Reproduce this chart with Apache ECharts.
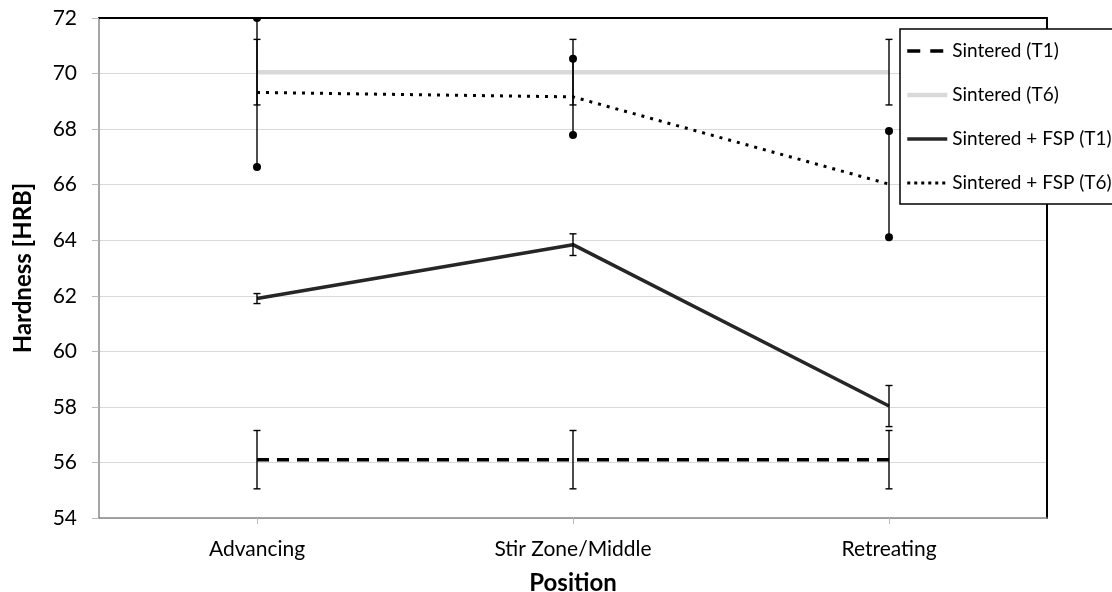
<!DOCTYPE html>
<html><head><meta charset="utf-8">
<script src="https://cdn.jsdelivr.net/npm/echarts@6/dist/echarts.min.js"></script>
<style>html,body{margin:0;padding:0;background:#fff}#c{width:1112px;height:592px}</style>
</head><body><div id="c"></div>
<script>
const categories = ['Advancing', 'Stir Zone/Middle', 'Retreating'];
const yTicks = [54, 56, 58, 60, 62, 64, 66, 68, 70, 72];
const sinteredT1 = [56.1, 56.1, 56.1];
const sinteredT1Err = [1.05, 1.05, 1.05];
const sinteredT6 = [70.05, 70.05, 70.05];
const sinteredT6Err = [1.18, 1.18, 1.18];
const fspT1 = [61.9, 63.84, 58.03];
const fspT1Err = [0.18, 0.39, 0.74];
const fspT6 = [69.32, 69.16, 66.02];
const fspT6Err = [2.68, 1.37, 1.91];

const FONT = 'Lato';
const chart = echarts.init(document.getElementById('c'));

function errData(vals, errs) {
  return vals.map((v, i) => [i, v - errs[i], v + errs[i]]);
}
function errSeries(name, vals, errs, dotted) {
  return {
    type: 'custom', name: name + ' err', clip: true, z: 5,
    silent: true,
    data: errData(vals, errs),
    renderItem: function (params, api) {
      const lo = api.coord([api.value(0), api.value(1)]);
      const hi = api.coord([api.value(0), api.value(2)]);
      const st = { stroke: '#000', lineWidth: 1.4 };
      const ch = [{ type: 'line', shape: { x1: lo[0], y1: lo[1], x2: hi[0], y2: hi[1] }, style: st }];
      if (dotted) {
        ch.push({ type: 'circle', shape: { cx: lo[0], cy: lo[1], r: 4 }, style: { fill: '#000' } });
        ch.push({ type: 'circle', shape: { cx: hi[0], cy: hi[1], r: 4 }, style: { fill: '#000' } });
      } else {
        const w = 3.5;
        ch.push({ type: 'line', shape: { x1: lo[0] - w, y1: lo[1], x2: lo[0] + w, y2: lo[1] }, style: st });
        ch.push({ type: 'line', shape: { x1: hi[0] - w, y1: hi[1], x2: hi[0] + w, y2: hi[1] }, style: st });
      }
      return { type: 'group', children: ch };
    }
  };
}

const option = {
  animation: false,
  backgroundColor: '#fff',
  grid: { left: 99, right: 65, top: 18, bottom: 74, containLabel: false, outerBoundsMode: 'none' },
  legend: {
    orient: 'vertical', left: 900, top: 29,
    padding: [12, 40, 11, 5],
    backgroundColor: '#fff', borderColor: '#000', borderWidth: 1.5, borderRadius: 0,
    itemWidth: 40, itemHeight: 14, itemGap: 24,
    itemStyle: { opacity: 0 },
    textStyle: { fontFamily: FONT, fontSize: 19, lineHeight: 20, color: '#000' },
    data: [
      { name: 'Sintered (T1)', lineStyle: { width: 3.5, color: '#000', type: [13, 10] } },
      { name: 'Sintered (T6)', lineStyle: { width: 4.5, color: '#d9d9d9' } },
      { name: 'Sintered + FSP (T1)', lineStyle: { width: 3.5, color: '#262626' } },
      { name: 'Sintered + FSP (T6)', lineStyle: { width: 3, color: '#000', type: [3, 4] } }
    ],
    z: 20
  },
  xAxis: [{
    type: 'category', data: categories, boundaryGap: true,
    axisLine: { lineStyle: { color: '#888', width: 1.5 } },
    axisTick: { show: true, alignWithLabel: true, length: 6, lineStyle: { color: '#bbb' } },
    axisLabel: { fontFamily: FONT, fontSize: 21, color: '#000', margin: 21 },
    name: 'Position', nameLocation: 'middle', nameGap: 53,
    nameTextStyle: { fontFamily: FONT, fontSize: 24, fontWeight: 'bold', color: '#000' }
  }, {
    type: 'category', data: categories, position: 'top',
    axisLine: { lineStyle: { color: '#000', width: 2 } },
    axisTick: { show: false }, axisLabel: { show: false }
  }],
  yAxis: [{
    type: 'value', min: yTicks[0], max: yTicks[yTicks.length - 1], interval: 2,
    axisLine: { show: true, lineStyle: { color: '#888', width: 1.5 } },
    axisTick: { show: true, length: 7, lineStyle: { color: '#bbb' } },
    axisLabel: { fontFamily: FONT, fontSize: 21, color: '#000', margin: 22 },
    splitLine: { lineStyle: { color: '#d9d9d9', width: 1.2 } },
    name: 'Hardness [HRB]', nameLocation: 'middle', nameGap: 64,
    nameTextStyle: { fontFamily: FONT, fontSize: 24, fontWeight: 'bold', color: '#000' }
  }, {
    type: 'value', min: yTicks[0], max: yTicks[yTicks.length - 1], interval: 2, position: 'right',
    axisLine: { show: true, lineStyle: { color: '#000', width: 2 } },
    axisTick: { show: false }, axisLabel: { show: false }, splitLine: { show: false }
  }],
  series: [
    { name: 'Sintered (T1)', type: 'line', data: sinteredT1, symbol: 'none', z: 3,
      color: '#000', lineStyle: { color: '#000', width: 3.5, type: [12, 8] } },
    { name: 'Sintered (T6)', type: 'line', data: sinteredT6, symbol: 'none', z: 2,
      color: '#d9d9d9', lineStyle: { color: '#d9d9d9', width: 4.5 } },
    { name: 'Sintered + FSP (T1)', type: 'line', data: fspT1, symbol: 'none', z: 3,
      color: '#262626', lineStyle: { color: '#262626', width: 3.5 } },
    { name: 'Sintered + FSP (T6)', type: 'line', data: fspT6, symbol: 'none', z: 3,
      color: '#000', lineStyle: { color: '#000', width: 3, type: [3, 6] } },
    errSeries('Sintered (T6)', sinteredT6, sinteredT6Err, false),
    errSeries('Sintered (T1)', sinteredT1, sinteredT1Err, false),
    errSeries('Sintered + FSP (T1)', fspT1, fspT1Err, false),
    errSeries('Sintered + FSP (T6)', fspT6, fspT6Err, true)
  ]
};
chart.setOption(option);
</script></body></html>
